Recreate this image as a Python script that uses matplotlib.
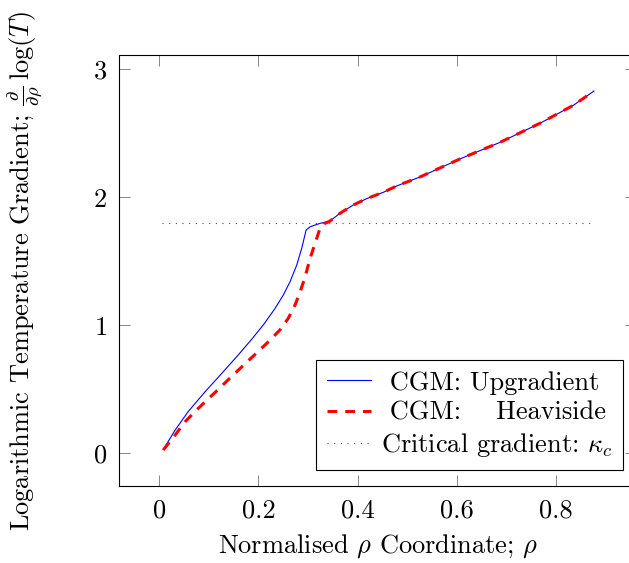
import numpy as np
import matplotlib
matplotlib.use("Agg")
import matplotlib.pyplot as plt

plt.rcParams['font.family'] = 'serif'
plt.rcParams['font.serif'] = ['cmr10']
plt.rcParams['mathtext.fontset'] = 'cm'
plt.rcParams['axes.formatter.use_mathtext'] = True
plt.rcParams['axes.unicode_minus'] = False
plt.rcParams['font.size'] = 19

# upgradient CGM
rho_up = [0.008, 0.032, 0.058, 0.092, 0.126, 0.159, 0.186, 0.21, 0.233, 0.25,
          0.2635, 0.277, 0.287, 0.296, 0.304, 0.324, 0.344, 0.364, 0.391, 0.418,
          0.452, 0.479, 0.526, 0.606, 0.687, 0.768, 0.835, 0.876]
grad_up = [0.03, 0.182, 0.325, 0.48, 0.625, 0.768, 0.89, 1.005, 1.13, 1.237,
           1.34, 1.47, 1.60, 1.745, 1.77, 1.797, 1.815, 1.875, 1.94, 1.99,
           2.04, 2.09, 2.16, 2.30, 2.43, 2.58, 2.72, 2.83]

# heaviside CGM
rho_hv = [0.008, 0.032, 0.052, 0.075, 0.096, 0.119, 0.143, 0.166, 0.19, 0.2165,
          0.243, 0.26, 0.2736, 0.284, 0.294, 0.304, 0.314, 0.324, 0.334, 0.344,
          0.364, 0.391, 0.418, 0.452, 0.479, 0.526, 0.606, 0.687, 0.768, 0.835,
          0.876]
grad_hv = [0.026, 0.143, 0.247, 0.338, 0.416, 0.50, 0.59, 0.675, 0.762, 0.859,
           0.963, 1.055, 1.159, 1.262, 1.38, 1.523, 1.64, 1.758, 1.797, 1.815,
           1.875, 1.94, 1.99, 2.04, 2.09, 2.16, 2.30, 2.43, 2.58, 2.72,
           2.83]

kappa_c = 1.8
rho_crit = [0.005, 0.872]

xticks = [0, 0.2, 0.4, 0.6, 0.8]
xticklabels = ['0', '0.2', '0.4', '0.6', '0.8']
yticks = [0, 1, 2, 3]

fig = plt.figure(figsize=(6.29, 5.63), dpi=100)
ax = fig.add_axes([119.3/629, 77/563, (636-119.3)/629, (486-55.3)/563])

ax.plot(rho_up, grad_up, color='blue', lw=0.8, label=' CGM: Upgradient')
ax.plot(rho_hv, grad_hv, color='red', lw=2.2, dashes=(3.2, 2.6),
        label=' CGM:    Heaviside')
ax.plot(rho_crit, [kappa_c, kappa_c], color='0.3', lw=0.8, dashes=(1, 5),
        label=r'Critical gradient: $\kappa_c$')

ax.set_xlim(-0.0806, 0.961)
ax.set_ylim(-0.255, 3.11)
ax.set_xticks(xticks)
ax.set_xticklabels(xticklabels)
ax.set_yticks(yticks)
ax.tick_params(direction='in', length=8, width=0.6, color='0.45',
               top=True, right=True, pad=9)
for s in ax.spines.values():
    s.set_linewidth(0.8)

ax.set_xlabel(r'Normalised $\rho$ Coordinate; $\rho$', labelpad=7)
ax.set_ylabel(r'Logarithmic Temperature Gradient; $\frac{\partial}{\partial\rho}\,\log(T)$',
              labelpad=35)

leg = ax.legend(loc='lower right', bbox_to_anchor=(623/629, 93/563),
                bbox_transform=fig.transFigure, borderaxespad=0,
                fancybox=False, framealpha=1, edgecolor='black',
                handlelength=1.7, handletextpad=0.35, labelspacing=0.25,
                borderpad=0.4)
leg.get_frame().set_linewidth(0.8)

fig.savefig('out.png', dpi=100)
